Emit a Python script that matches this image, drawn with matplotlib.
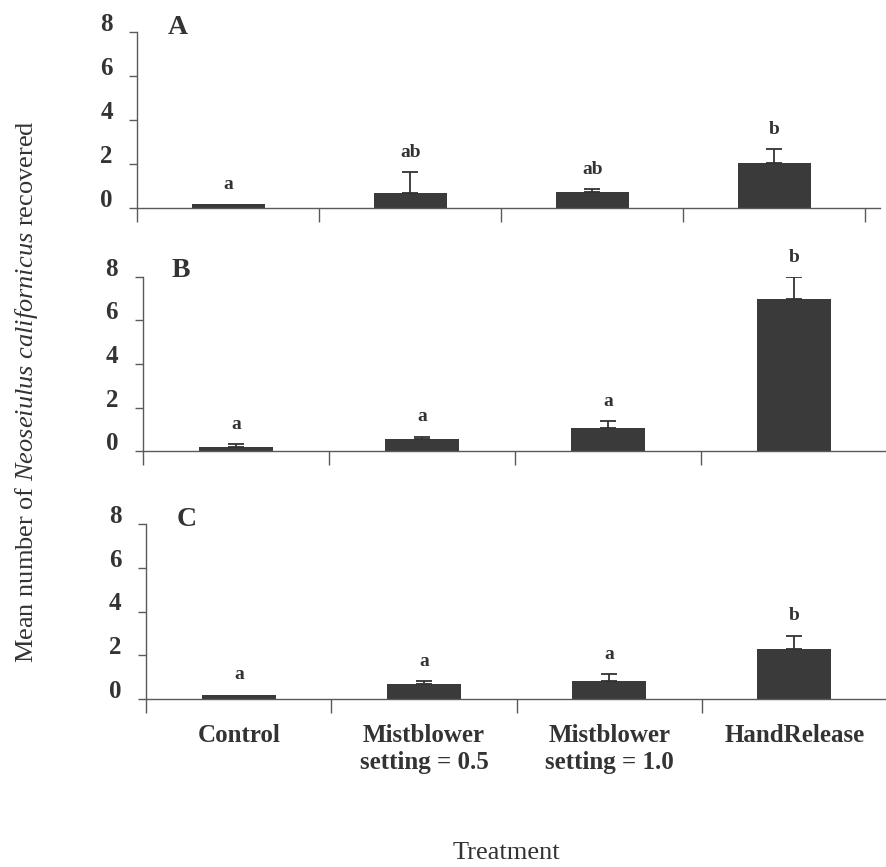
import matplotlib
matplotlib.use("Agg")
import matplotlib.pyplot as plt
import matplotlib.transforms as mtransforms
import numpy as np

plt.rcParams['font.family'] = ['Liberation Serif', 'DejaVu Serif']
plt.rcParams['mathtext.fontset'] = 'custom'
plt.rcParams['mathtext.rm'] = 'Liberation Serif'
plt.rcParams['mathtext.it'] = 'Liberation Serif:italic'

# ---------------- data ----------------
treatments = ["Control", "Mistblower\nsetting = 0.5", "Mistblower\nsetting = 1.0", "HandRelease"]
panel_labels = ["A", "B", "C"]

means_A = [0.18, 0.70, 0.71, 2.04]
errs_A = [0.00, 0.94, 0.14, 0.63]
letters_A = ["a", "ab", "ab", "b"]

means_B = [0.21, 0.55, 1.07, 7.00]
errs_B = [0.12, 0.12, 0.30, 0.97]
letters_B = ["a", "a", "a", "b"]

means_C = [0.18, 0.66, 0.80, 2.26]
errs_C = [0.00, 0.14, 0.33, 0.63]
letters_C = ["a", "a", "a", "b"]

yticks = [0, 2, 4, 6, 8]

# ---------------- layout (pixels) ----------------
W, H = 887, 867
fig = plt.figure(figsize=(W / 100, H / 100), dpi=100)

layout = [
    dict(L=137.5, R=880, y0=208.0, y8=32.3, sp=182.0, lx=178, ly=34),
    dict(L=142.8, R=887, y0=451.3, y8=276.7, sp=188.0, lx=181, ly=277),
    dict(L=146.3, R=887, y0=698.7, y8=524.3, sp=188.3, lx=187, ly=526),
]
data = [(means_A, errs_A, letters_A), (means_B, errs_B, letters_B), (means_C, errs_C, letters_C)]

ink = '#333333'
bar_col = '#3a3a3a'
axis_col = '#5a5a5a'

x = np.arange(len(treatments))
for k, (lay, (means, errs, letters)) in enumerate(zip(layout, data)):
    ax = fig.add_axes([lay['L'] / W, 1 - lay['y0'] / H,
                       (lay['R'] - lay['L']) / W, (lay['y0'] - lay['y8']) / H])
    ax.bar(x, means, width=0.40, color=bar_col, edgecolor='none', zorder=2)
    e = np.array(errs)
    m = np.array(means)
    mask = e > 0
    ax.errorbar(x[mask], m[mask], yerr=[np.zeros(mask.sum()), e[mask]], fmt='none',
                ecolor=ink, elinewidth=1.3, capsize=5.5, capthick=1.3, zorder=3)
    for i in range(len(x)):
        ax.annotate(letters[i], (x[i], means[i] + errs[i]), xytext=(0, 11),
                    textcoords='offset points', ha='center', va='baseline',
                    fontsize=14, fontweight='bold', color=ink)
    ax.set_ylim(0, 8)
    ax.set_xlim(-0.5, -0.5 + (lay['R'] - lay['L']) / lay['sp'])
    for s in ['top', 'right']:
        ax.spines[s].set_visible(False)
    for s in ['left', 'bottom']:
        ax.spines[s].set_color(axis_col)
        ax.spines[s].set_linewidth(1.0)
    ax.set_yticks(yticks)
    ax.set_yticklabels([str(t) for t in yticks], fontsize=18, fontweight='bold', color=ink)
    ax.tick_params(axis='y', direction='out', length=5.8, width=1.0, color=axis_col, pad=12)
    off = mtransforms.ScaledTranslation(0, 0.10, fig.dpi_scale_trans)
    for lab in ax.get_yticklabels():
        lab.set_transform(lab.get_transform() + off)
    ax.set_xticks(np.arange(-0.5, len(treatments), 1.0))
    ax.set_xticklabels([])
    ax.tick_params(axis='x', which='major', direction='out', length=10, width=1.0, color=axis_col)
    if k == 2:
        ax.set_xticks(x, minor=True)
        ax.set_xticklabels(treatments, minor=True, fontsize=18, fontweight='bold',
                           color=ink, linespacing=1.25)
        ax.tick_params(axis='x', which='minor', length=0, pad=18)
    fig.text(lay['lx'] / W, 1 - lay['ly'] / H, panel_labels[k], ha='center', va='baseline',
             fontsize=20, fontweight='bold', color=ink)

fig.text(27 / W, 1 - 392 / H, r"Mean number of $\mathit{Neoseiulus\ californicus}$ recovered",
         rotation=90, ha='center', va='center', fontsize=19, color=ink)
fig.text(506 / W, 1 - 853 / H, "Treatment", ha='center', va='center', fontsize=19, color=ink)

fig.savefig("out.png", dpi=100)
